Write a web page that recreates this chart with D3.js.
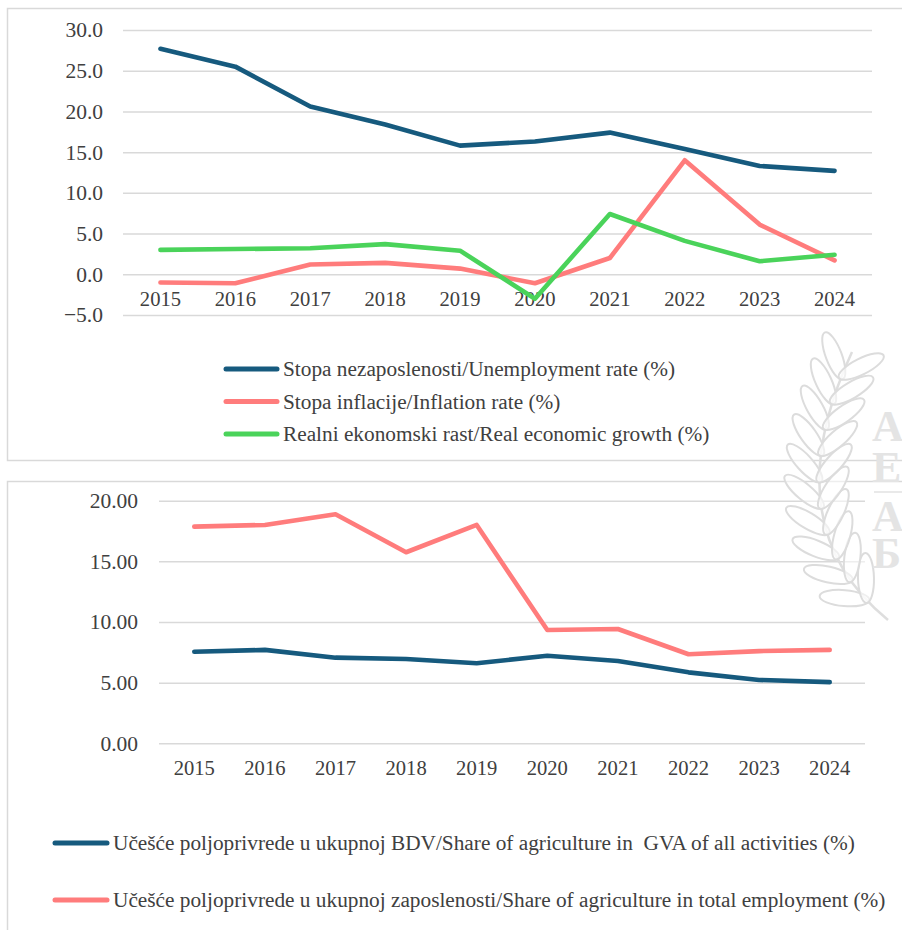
<!DOCTYPE html>
<html>
<head>
<meta charset="utf-8">
<script src="https://cdn.jsdelivr.net/npm/d3@7/dist/d3.min.js"></script>
<style>
  body { margin: 0; background: #fff; }
  svg text { font-family: "Liberation Serif", "Times New Roman", Tinos, "DejaVu Serif", serif; fill: #404040; white-space: pre; }
</style>
</head>
<body>
<svg id="chart" width="902" height="930"></svg>
<script>
// categories
var years = ["2015", "2016", "2017", "2018", "2019", "2020", "2021", "2022", "2023", "2024"];

// top chart series (%)
var unemployment = [27.7, 25.5, 20.6, 18.4, 15.8, 16.3, 17.4, 15.4, 13.3, 12.7];
var inflation    = [-1.0, -1.1, 1.2, 1.4, 0.7, -1.1, 2.0, 14.0, 6.1, 1.7];
var growth       = [3.0, 3.1, 3.2, 3.7, 2.9, -3.0, 7.4, 4.1, 1.6, 2.4];

// bottom chart series (%)
var gvaShare        = [7.55, 7.70, 7.06, 6.95, 6.60, 7.22, 6.78, 5.85, 5.22, 5.04];
var employmentShare = [17.86, 18.0, 18.88, 15.75, 18.0, 9.34, 9.42, 7.34, 7.60, 7.70];

var topTicks = [-5, 0, 5, 10, 15, 20, 25, 30];
var bottomTicks = [0, 5, 10, 15, 20];

var topLabels = [
   "Stopa nezaposlenosti/Unemployment rate (%)",
   "Stopa inflacije/Inflation rate (%)",
   "Realni ekonomski rast/Real economic growth (%)"
];
var bottomLabels = [
   "Učešće poljoprivrede u ukupnoj BDV/Share of agriculture in  GVA of all activities (%)",
   "Učešće poljoprivrede u ukupnoj zaposlenosti/Share of agriculture in total employment (%)"
];

var blue = "#165a7e", salmon = "#ff7c7c", green = "#4ad35a", grid = "#d9d9d9";
var serif = '"Liberation Serif", "Times New Roman", Tinos, "DejaVu Serif", serif';

var svg = d3.select("#chart");

// chart frames
svg.append("rect").attr("x", 7.5).attr("y", 8.5).attr("width", 910).attr("height", 452)
   .attr("fill", "none").attr("stroke", grid).attr("stroke-width", 1.5);
svg.append("rect").attr("x", 7.5).attr("y", 481.5).attr("width", 910).attr("height", 480)
   .attr("fill", "none").attr("stroke", grid).attr("stroke-width", 1.5);

function drawChart(cfg) {
   var x = d3.scaleBand().domain(years).range([cfg.left, cfg.right]);
   var y = d3.scaleLinear().domain(cfg.domain).range([cfg.bottom, cfg.top]);
   var g = svg.append("g");

   var ya = g.append("g")
      .attr("transform", "translate(" + cfg.left + ",0)")
      .call(d3.axisLeft(y).tickValues(cfg.ticks).tickFormat(d3.format(cfg.fmt))
         .tickSize(-(cfg.right - cfg.left)).tickPadding(cfg.pad));
   ya.attr("font-family", serif).attr("font-size", 21.5);
   ya.select(".domain").remove();
   ya.selectAll("line").attr("stroke", grid).attr("stroke-width", 1.5);
   ya.selectAll("text").attr("fill", null);

   var xa = g.append("g")
      .attr("transform", "translate(0," + y(0) + ")")
      .call(d3.axisBottom(x).tickSize(0).tickPadding(cfg.xpad));
   xa.attr("font-family", serif).attr("font-size", 20.6);
   xa.select(".domain").remove();
   xa.selectAll("text").attr("fill", null);

   var line = d3.line()
      .x(function (d, i) { return x(years[i]) + x.bandwidth() / 2; })
      .y(function (d) { return y(d); });

   cfg.series.forEach(function (s) {
      g.append("path")
         .datum(s.values)
         .attr("d", line)
         .attr("fill", "none")
         .attr("stroke", s.color)
         .attr("stroke-width", 4.6)
         .attr("stroke-linejoin", "round")
         .attr("stroke-linecap", "round");
   });

   // legend
   var leg = g.selectAll(".leg").data(cfg.series).enter().append("g")
      .attr("transform", function (d, i) {
         return "translate(" + cfg.legX + "," + (cfg.legY + i * cfg.legGap) + ")";
      });
   leg.append("line").attr("x1", 0).attr("x2", cfg.legLen).attr("y1", 0).attr("y2", 0)
      .attr("stroke", function (d) { return d.color; })
      .attr("stroke-width", 5).attr("stroke-linecap", "round");
   leg.append("text").attr("x", cfg.legLen + 6).attr("y", 0).attr("dy", "0.33em")
      .attr("font-family", serif).attr("font-size", 21.3)
      .text(function (d) { return d.label; });
}

drawChart({
   left: 123, right: 872, top: 30, bottom: 315, domain: [-5, 30],
   ticks: topTicks, fmt: ".1f", pad: 20, xpad: 17.5,
   legX: 226, legY: 369, legGap: 32.5, legLen: 51,
   series: [
      {values: unemployment, color: blue, label: topLabels[0]},
      {values: inflation, color: salmon, label: topLabels[1]},
      {values: growth, color: green, label: topLabels[2]}
   ]
});

drawChart({
   left: 159, right: 865, top: 500.7, bottom: 743.3, domain: [0, 20],
   ticks: bottomTicks, fmt: ".2f", pad: 21, xpad: 17,
   legX: 55, legY: 843, legGap: 57, legLen: 52,
   series: [
      {values: gvaShare, color: blue, label: bottomLabels[0]},
      {values: employmentShare, color: salmon, label: bottomLabels[1]}
   ]
});

// faint watermark (laurel + letters) on the right edge
var wm = svg.append("g");
var stem = "M888,620 Q772,525 852,352";
wm.append("path").attr("d", stem).attr("fill", "none").attr("stroke", "#dedede").attr("stroke-width", 2.5);
var stemNode = wm.select("path").node(), stemLen = stemNode.getTotalLength();
d3.range(0.1, 0.95, 0.09).forEach(function (t) {
   var p = stemNode.getPointAtLength(stemLen * t);
   var q = stemNode.getPointAtLength(Math.max(0, stemLen * t - 2));
   var ang = Math.atan2(p.y - q.y, p.x - q.x) * 180 / Math.PI;
   [-1, 1].forEach(function (side) {
      wm.append("ellipse")
         .attr("cx", 0).attr("cy", 0).attr("rx", 25).attr("ry", 8)
         .attr("transform", "translate(" + p.x + "," + p.y + ") rotate(" + (ang + side * 42) + ") translate(22,0)")
         .attr("fill", "rgba(255,255,255,0.55)").attr("stroke", "#dcdcdc").attr("stroke-width", 2);
   });
});
var letters = [["А", 441], ["Е", 482], ["А", 531], ["Б", 568]];
letters.forEach(function (l) {
   wm.append("text").attr("x", 872).attr("y", l[1]).attr("font-size", 44)
      .attr("font-family", serif).attr("font-weight", "bold").style("fill", "#e4e4e4").text(l[0]);
});
wm.append("line").attr("x1", 874).attr("x2", 902).attr("y1", 492).attr("y2", 492)
   .attr("stroke", "#e2e2e2").attr("stroke-width", 1.5);
</script>
</body>
</html>
